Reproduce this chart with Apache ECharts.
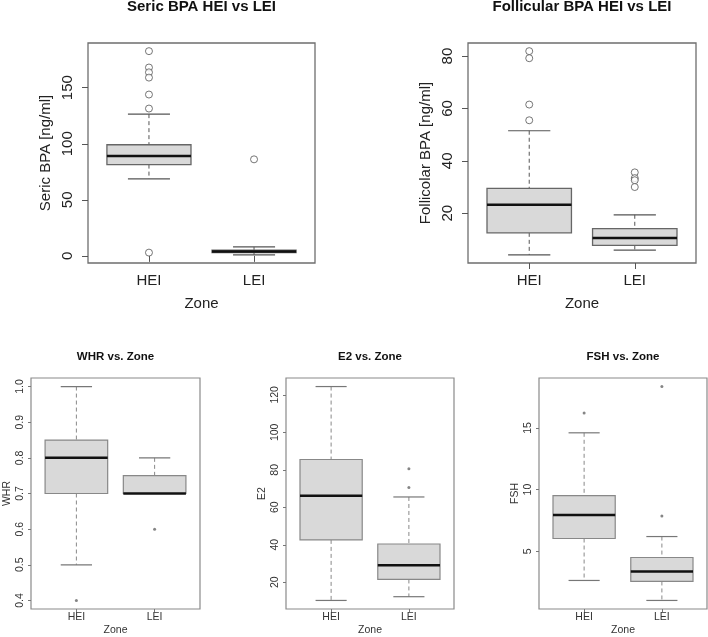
<!DOCTYPE html>
<html>
<head>
<meta charset="utf-8">
<script src="https://cdn.jsdelivr.net/npm/echarts@6/dist/echarts.min.js"></script>
<style>html,body{margin:0;padding:0;background:#fff}#c{width:708px;height:637px}</style>
</head>
<body>
<div id="c"></div>
<script>
// ---- data ----
const categories = ['HEI', 'LEI'];

// [position, lowWhisker, Q1, median, Q3, highWhisker]
const sericBox = [[1, 68.7, 81.4, 89.1, 99.1, 126.4], [2, 0.9, 3.0, 3.8, 5.0, 8.0]];
const sericOutHEI = [182.6, 168.0, 163.7, 159.0, 143.9, 131.4, 2.9];
const sericOutLEI = [86.1];
const sericTicks = [0, 50, 100, 150];

const follBox = [[1, 4.1, 12.5, 23.2, 29.5, 51.5], [2, 5.9, 7.7, 10.5, 14.1, 19.4]];
const follOutHEI = [81.9, 79.2, 61.5, 55.5];
const follOutLEI = [35.6, 33.4, 32.6, 30.0];
const follTicks = [20, 40, 60, 80];

const whrBox = [[1, 0.5, 0.7, 0.8, 0.85, 1.0], [2, 0.7, 0.7, 0.7, 0.75, 0.8]];
const whrOutHEI = [0.4];
const whrOutLEI = [0.6];
const whrTicks = [0.4, 0.5, 0.6, 0.7, 0.8, 0.9, 1.0];

const e2Box = [[1, 10.3, 42.6, 66.1, 85.5, 124.4], [2, 12.3, 21.5, 29.1, 40.4, 65.5]];
const e2OutHEI = [];
const e2OutLEI = [80.5, 70.5];
const e2Ticks = [20, 40, 60, 80, 100, 120];

const fshBox = [[1, 2.63, 6.03, 7.94, 9.5, 14.6], [2, 1.01, 2.55, 3.36, 4.49, 6.19]];
const fshOutHEI = [16.2];
const fshOutLEI = [18.35, 7.86];
const fshTicks = [5, 10, 15];

// ---- panels ----
const panels = [
  {title: 'Seric BPA HEI vs LEI', ylab: 'Seric BPA [ng/ml]', box: sericBox, oH: sericOutHEI, oL: sericOutLEI, ticks: sericTicks, dec: 0,
   grid: {left: 88, top: 43, width: 227, height: 220}, big: true},
  {title: 'Follicular BPA HEI vs LEI', ylab: 'Follicolar BPA [ng/ml]', box: follBox, oH: follOutHEI, oL: follOutLEI, ticks: follTicks, dec: 0,
   grid: {left: 468, top: 43, width: 228, height: 220}, big: true},
  {title: 'WHR vs. Zone', ylab: 'WHR', box: whrBox, oH: whrOutHEI, oL: whrOutLEI, ticks: whrTicks, dec: 1,
   grid: {left: 31, top: 378, width: 169, height: 231}, big: false},
  {title: 'E2 vs. Zone', ylab: 'E2', box: e2Box, oH: e2OutHEI, oL: e2OutLEI, ticks: e2Ticks, dec: 0,
   grid: {left: 286, top: 378, width: 168, height: 231}, big: false},
  {title: 'FSH vs. Zone', ylab: 'FSH', box: fshBox, oH: fshOutHEI, oL: fshOutLEI, ticks: fshTicks, dec: 0,
   grid: {left: 539, top: 378, width: 168, height: 231}, big: false}
];

const FONT = 'Liberation Sans, Arial, sans-serif';

function makeRender(sty) {
  return function (params, api) {
    const x = api.value(0), lo = api.value(1), q1 = api.value(2), md = api.value(3), q3 = api.value(4), hi = api.value(5);
    const p = (xx, yy) => api.coord([xx, yy]);
    const ch = [];
    const wl = (a, b) => ({type: 'line', shape: {x1: a[0], y1: a[1], x2: b[0], y2: b[1]},
      style: {stroke: sty.whisker, lineWidth: 1, lineDash: [4, 3]}});
    if (hi > q3) ch.push(wl(p(x, hi), p(x, q3)));
    if (lo < q1) ch.push(wl(p(x, q1), p(x, lo)));
    const cap = (v) => { const a = p(x - 0.2, v), b = p(x + 0.2, v);
      return {type: 'line', shape: {x1: a[0], y1: a[1], x2: b[0], y2: b[1]}, style: {stroke: sty.cap, lineWidth: 1.2}}; };
    ch.push(cap(hi)); ch.push(cap(lo));
    const tl = p(x - 0.4, q3), br = p(x + 0.4, q1);
    ch.push({type: 'rect', shape: {x: tl[0], y: tl[1], width: br[0] - tl[0], height: Math.max(br[1] - tl[1], 0.5)},
      style: {fill: '#d9d9d9', stroke: sty.box, lineWidth: sty.boxW}});
    const m1 = p(x - 0.4, md), m2 = p(x + 0.4, md);
    ch.push({type: 'line', shape: {x1: m1[0], y1: m1[1], x2: m2[0], y2: m2[1]}, style: {stroke: '#111', lineWidth: sty.medW}});
    return {type: 'group', children: ch};
  };
}

const grids = [], xAxes = [], yAxes = [], series = [], graphics = [];
panels.forEach((pn, i) => {
  const big = pn.big;
  grids.push(Object.assign({show: true, borderColor: big ? '#6e6e6e' : '#8a8a8a', borderWidth: big ? 1.3 : 1.2,
    backgroundColor: 'transparent'}, pn.grid));
  const all = [];
  pn.box.forEach(b => { all.push(b[1], b[5]); });
  pn.oH.concat(pn.oL).forEach(v => all.push(v));
  const lo = Math.min.apply(null, all), hi = Math.max.apply(null, all);
  const ext = 0.04 * (hi - lo);
  const fs = big ? 15 : 10.5;
  const tc = big ? '#222' : '#333';
  xAxes.push({type: 'value', gridIndex: i, min: 0.42, max: 2.58,
    axisLine: {show: false}, splitLine: {show: false},
    axisTick: {show: true, inside: false, length: big ? 6 : 3, customValues: [1, 2], lineStyle: {color: big ? '#555' : '#777'}},
    axisLabel: {customValues: [1, 2], formatter: v => categories[Math.round(v) - 1], fontSize: fs, fontFamily: FONT, color: tc,
      margin: big ? 10 : 3},
    name: 'Zone', nameLocation: 'middle', nameGap: big ? 33 : 16,
    nameTextStyle: {fontSize: fs, fontFamily: FONT, color: tc}});
  yAxes.push({type: 'value', gridIndex: i, min: lo - ext, max: hi + ext,
    axisLine: {show: false}, splitLine: {show: false},
    axisTick: {show: true, inside: false, length: big ? 6 : 3, customValues: pn.ticks, lineStyle: {color: big ? '#555' : '#777'}},
    axisLabel: {customValues: pn.ticks, rotate: 90, formatter: v => Number(v).toFixed(pn.dec), fontSize: fs, fontFamily: FONT, color: tc,
      margin: big ? 13 : 5},
    name: pn.ylab, nameLocation: 'middle', nameGap: big ? 35 : 18,
    nameTextStyle: {fontSize: fs, fontFamily: FONT, color: tc}});
  const sty = big ? {whisker: '#555', cap: '#555', box: '#666', boxW: 1.3, medW: 2.5}
                  : {whisker: '#888', cap: '#777', box: '#888', boxW: 1.2, medW: 2.5};
  series.push({type: 'custom', xAxisIndex: i, yAxisIndex: i, data: pn.box, renderItem: makeRender(sty),
    encode: {x: 0, y: [1, 2, 3, 4, 5]}, silent: true, animation: false});
  const outs = pn.oH.map(v => [1, v]).concat(pn.oL.map(v => [2, v]));
  series.push({type: 'scatter', xAxisIndex: i, yAxisIndex: i, data: outs, animation: false, silent: true,
    symbol: 'circle', symbolSize: big ? 7 : 3,
    itemStyle: big ? {color: '#fff', borderColor: '#555', borderWidth: 1} : {color: '#666'}});
  graphics.push({type: 'text', x: pn.grid.left + pn.grid.width / 2, y: big ? 7 : 357,
    style: {text: pn.title, font: 'bold ' + (big ? 15 : 11.5) + 'px ' + FONT, fill: '#111', textAlign: 'center', textVerticalAlign: 'middle'}});
});

const chart = echarts.init(document.getElementById('c'), null, {renderer: 'canvas'});
chart.setOption({
  animation: false,
  backgroundColor: '#fff',
  grid: grids, xAxis: xAxes, yAxis: yAxes, series: series, graphic: graphics
});
</script>
</body>
</html>
